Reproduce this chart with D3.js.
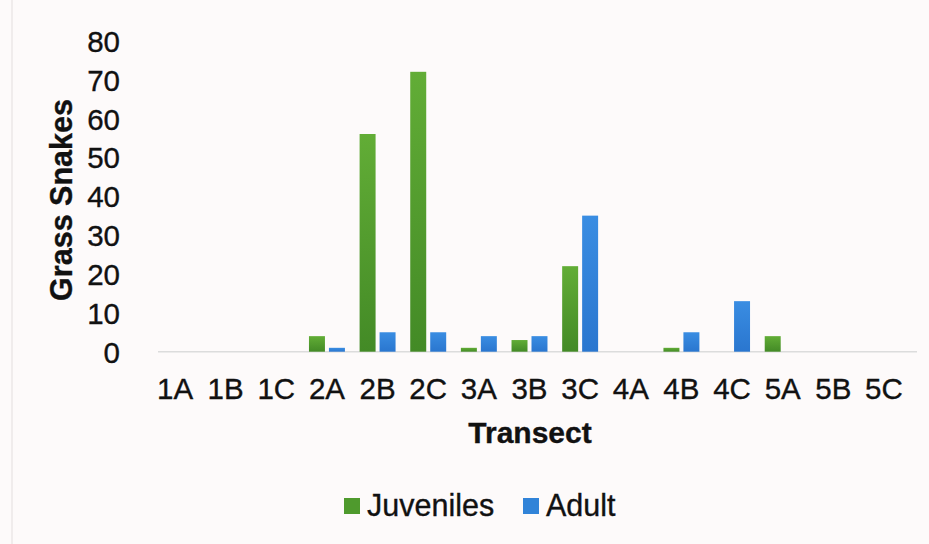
<!DOCTYPE html>
<html>
<head>
<meta charset="utf-8">
<script src="https://cdn.jsdelivr.net/npm/d3@7/dist/d3.min.js"></script>
<style>
  html, body { margin: 0; padding: 0; background: #fdfafa; }
  svg { display: block; font-family: "Liberation Sans", Arial, sans-serif; }
  text { stroke: #111; stroke-width: 0.35px; }
</style>
</head>
<body>
<svg id="chart" width="929" height="544"></svg>
<script>
// Grass snake counts per transect
const transects = ["1A","1B","1C","2A","2B","2C","3A","3B","3C","4A","4B","4C","5A","5B","5C"];
const juveniles = [0, 0, 0, 4, 56, 72, 1, 3, 22, 0, 1, 0, 4, 0, 0];
const adults    = [0, 0, 0, 1, 5, 5, 4, 4, 35, 0, 5, 13, 0, 0, 0];
const seriesNames = ["Juveniles", "Adult"];
const yTicks = [0, 10, 20, 30, 40, 50, 60, 70, 80];

const svg = d3.select("#chart");
const W = 929, H = 544;

// left scan edge
svg.append("line").attr("x1", 12).attr("x2", 12).attr("y1", 0).attr("y2", H)
  .attr("stroke", "#ebe7e7").attr("stroke-width", 1.5);

const defs = svg.append("defs");
function grad(id, top, bottom) {
  const g = defs.append("linearGradient").attr("id", id)
    .attr("x1", 0).attr("y1", 0).attr("x2", 0).attr("y2", 1);
  g.append("stop").attr("offset", "0%").attr("stop-color", top);
  g.append("stop").attr("offset", "100%").attr("stop-color", bottom);
}
grad("gJuv", "#62ad36", "#438a26");
grad("gAd", "#3a8de2", "#2a76cf");
const fills = ["url(#gJuv)", "url(#gAd)"];
const swatch = ["#4f9a2d", "#3183d8"];

const x = d3.scaleBand().domain(transects).range([149.7, 909.3]).paddingInner(0.29).paddingOuter(0.145);
const xs = d3.scaleBand().domain(seriesNames).range([0, x.bandwidth()]).paddingInner(0.2);
const y = d3.scaleLinear().domain([0, 80]).range([351.7, 40.7]);

// baseline of plot area
svg.append("line").attr("x1", 158).attr("x2", 917)
  .attr("y1", y(0)).attr("y2", y(0))
  .attr("stroke", "#dcdcdc").attr("stroke-width", 1.5);

// bars
const data = transects.map((t, i) => ({ t, vals: [juveniles[i], adults[i]] }));
const groups = svg.append("g").selectAll("g").data(data).join("g")
  .attr("transform", d => `translate(${x(d.t)},0)`);
groups.selectAll("rect")
  .data(d => d.vals.map((v, k) => ({ v, k })).filter(e => e.v > 0))
  .join("rect")
  .attr("x", e => xs(seriesNames[e.k]))
  .attr("width", xs.bandwidth())
  .attr("y", e => y(e.v))
  .attr("height", e => y(0) - y(e.v))
  .attr("fill", e => fills[e.k]);

// y axis labels
const yAxis = d3.axisLeft(y).tickValues(yTicks).tickSize(0).tickPadding(0);
const yg = svg.append("g").attr("transform", "translate(120,0)").call(yAxis);
yg.select(".domain").remove();
yg.selectAll("text").attr("font-size", 29.5).attr("fill", "#111")
  .attr("font-family", "Liberation Sans, Arial, sans-serif").attr("dy", "0.36em");

// x axis labels
const xAxis = d3.axisBottom(x).tickSize(0).tickPadding(0);
const xg = svg.append("g").attr("transform", "translate(0,378)").call(xAxis);
xg.select(".domain").remove();
xg.selectAll("text").attr("font-size", 29.5).attr("fill", "#111")
  .attr("font-family", "Liberation Sans, Arial, sans-serif").attr("dy", "0.72em");

// axis titles
svg.append("text").attr("x", 530).attr("y", 443).attr("text-anchor", "middle")
  .attr("font-size", 30).attr("font-weight", "bold").attr("fill", "#111").text("Transect");
svg.append("text").attr("transform", "translate(72,200) rotate(-90)").attr("text-anchor", "middle")
  .attr("font-size", 30.5).attr("font-weight", "bold").attr("fill", "#111").text("Grass Snakes");

// legend
const legend = svg.append("g");
const items = [{ name: "Juveniles", x: 344 }, { name: "Adult", x: 523 }];
items.forEach((it, k) => {
  legend.append("rect").attr("x", it.x).attr("y", 498).attr("width", 16).attr("height", 16).attr("fill", swatch[k]);
  legend.append("text").attr("x", it.x + 23).attr("y", 516).attr("font-size", 30.5).attr("fill", "#111").text(it.name);
});
</script>
</body>
</html>
